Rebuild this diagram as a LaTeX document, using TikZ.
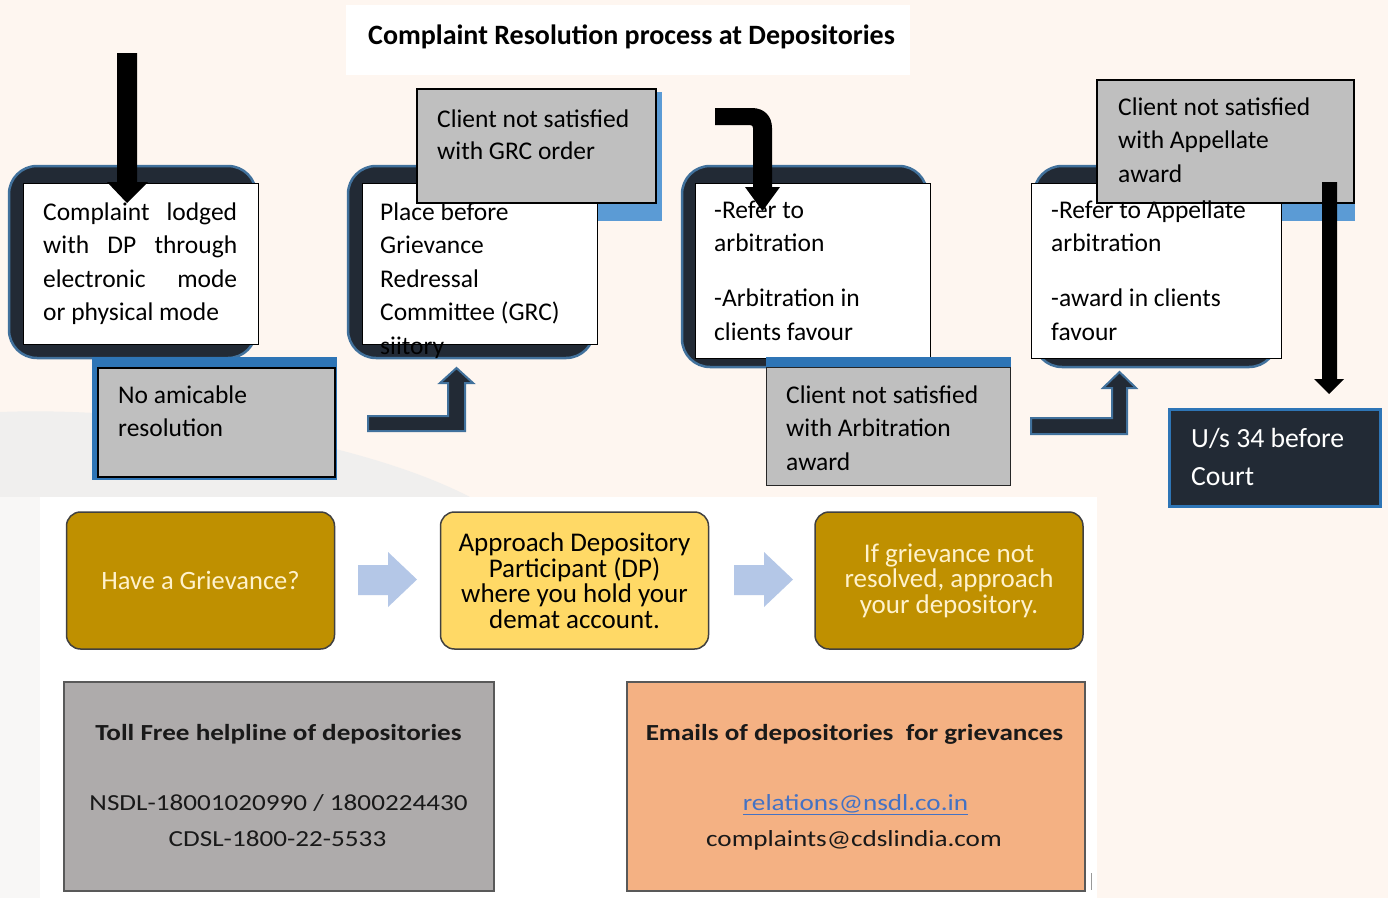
\documentclass[tikz,border=0pt]{standalone}
\usepackage{fontspec}
\setmainfont{Carlito}
\newfontfamily\widefont[FakeStretch=1.18]{Carlito}
\definecolor{bgpeach}{HTML}{FEF6F0}
\definecolor{bggray}{HTML}{F0EFEE}
\definecolor{bglight}{HTML}{F8F7F6}
\definecolor{navy}{HTML}{222A35}
\definecolor{outl}{HTML}{41719C}
\definecolor{blueA}{HTML}{2E75B6}
\definecolor{blueB}{HTML}{5B9BD5}
\definecolor{grayBox}{HTML}{BFBFBF}
\definecolor{gold}{HTML}{BF9000}
\definecolor{cream}{HTML}{FFF2CC}
\definecolor{yellowB}{HTML}{FFD966}
\definecolor{arrowBlue}{HTML}{B4C7E7}
\definecolor{helpGray}{HTML}{AEABAB}
\definecolor{peachBox}{HTML}{F4B183}
\definecolor{linkBlue}{HTML}{4472C4}
\definecolor{edgeGray}{HTML}{595959}
\newcommand\mlines[1]{\vtop{#1}}
\begin{document}
\begin{tikzpicture}[x=1pt,y=-1pt,
  box/.style={anchor=north west, inner sep=0pt, outer sep=0pt},
  darkbox/.style={box, fill=navy, draw=outl, line width=2.5pt, rounded corners=28pt},
  whitebox/.style={box, fill=white, draw=black, line width=1pt},
  graybox/.style={box, fill=grayBox, draw=black, line width=1.8pt},
  bluebox/.style={box, fill=#1},
  txt/.style={anchor=base west, inner sep=0pt, font=\fontsize{25.5}{33.5}\selectfont},
  bent/.style={fill=navy, draw=outl, line width=2pt, line join=miter},
  flow/.style={rounded corners=14pt, draw=black!75, line width=1.5pt, minimum width=268pt, minimum height=137pt, inner sep=0pt, align=center},
  flowtxt/.style={font=\fontsize{27}{25.5}\selectfont},
  infobox/.style={box, draw=edgeGray, line width=1.5pt, minimum width=#1, minimum height=209pt},
  infotxt/.style={anchor=base, inner sep=0pt, font=\widefont\fontsize{23}{28}\selectfont, text=black!90}
]
\useasboundingbox (0,0) rectangle (1388,898);
% background
\fill[bgpeach] (0,0) rectangle (1388,898);
\fill[bggray] (0,412) .. controls (150,406) and (360,440) .. (470,497) -- (0,497) -- cycle;
\fill[bglight] (0,497) rectangle (40,898);
\fill[white] (40,497) rectangle (1097,898);

% title
\node[box, fill=white, minimum width=564pt, minimum height=70pt] (titlebg) at (346,5) {};
\node[anchor=base west, inner sep=0pt, font=\bfseries\fontsize{28}{34}\selectfont] (title) at (368,44) {Complaint Resolution process at Depositories};

% ---- Box 1
\node[darkbox, minimum width=247pt, minimum height=192pt] (d1) at (9,166) {};
\node[whitebox, minimum width=235pt, minimum height=161pt] (w1) at (23,183) {};
\node[txt] (t1) at (43,220) {\mlines{\hbox to 194pt{Complaint\hfil lodged}\hbox to 194pt{with\hfil DP\hfil through}\hbox to 194pt{electronic\hfil mode}\hbox{or physical mode}}};
\coordinate (a1s) at (127,53);
\coordinate (a1e) at (127,203);
\fill[black] (117,53) -- (137,53) -- (137,182) -- (148,182) -- (a1e) -- (107,182) -- (117,182) -- cycle;

% No amicable resolution
\node[bluebox=blueA, minimum width=245pt, minimum height=123pt] (nab) at (92,357) {};
\node[graybox, minimum width=237pt, minimum height=109pt] (na) at (98,368) {};
\node[txt] (tna) at (118,403) {\mlines{\hbox{No amicable}\hbox{resolution}}};

% bent arrow 1
\draw[bent] (368,416) -- (448,416) -- (448,383) -- (440,383) -- (456.5,368) -- (473,383) -- (465,383) -- (465,431) -- (368,431) -- cycle;

% ---- Box 2
\node[darkbox, minimum width=246pt, minimum height=192pt] (d2) at (348,166) {};
\node[bluebox=blueB, minimum width=237pt, minimum height=129pt] (grcb) at (425,92) {};
\node[whitebox, minimum width=235pt, minimum height=161pt] (w2) at (362,183) {};
\node[txt] (t2) at (380,220) {\mlines{\hbox{Place before}\hbox{Grievance}\hbox{Redressal}\hbox{Committee (GRC)}\hbox{siitory}}};
\node[graybox, minimum width=239pt, minimum height=114pt] (grc) at (417,89) {};
\node[txt] (tgrc) at (437,127) {\mlines{\hbox{Client not satisfied}\vskip-1.5pt\hbox{with GRC order}}};

% ---- Box 3
\node[darkbox, minimum width=245pt, minimum height=201pt] (d3) at (682,166) {};
\node[whitebox, minimum width=235pt, minimum height=175pt] (w3) at (695,183) {};
\node[txt] (t3) at (714,218) {\mlines{\hbox{-Refer to}\hbox{arbitration}\vskip21.5pt\hbox{-Arbitration in}\hbox{clients favour}}};
\fill[black] (715,108) -- (752,108) .. controls (764,108) and (772,116) .. (772,128) -- (772,187) -- (780,187) -- (762.5,211) -- (745,187) -- (753,187) -- (753,128) .. controls (753,126) and (752,125) .. (750,125) -- (715,125) -- cycle;

% Arbitration award
\node[bluebox=blueA, minimum width=245pt, minimum height=12pt] (arbb) at (766,357) {};
\node[box, fill=grayBox, draw=black!85, line width=1pt, minimum width=244pt, minimum height=118pt] (arb) at (766,367) {};
\node[txt] (tarb) at (786,403) {\mlines{\hbox{Client not satisfied}\hbox{with Arbitration}\hbox{award}}};

% bent arrow 2
\draw[bent] (1031,418) -- (1112,418) -- (1112,388) -- (1103,388) -- (1119.5,372) -- (1136,388) -- (1127,388) -- (1127,434) -- (1031,434) -- cycle;

% ---- Box 4
\node[darkbox, minimum width=243pt, minimum height=201pt] (d4) at (1034,166) {};
\node[bluebox=blueB, minimum width=250pt, minimum height=137pt] (appb) at (1105,84) {};
\node[whitebox, minimum width=250pt, minimum height=175pt] (w4) at (1031,183) {};
\node[graybox, minimum width=257pt, minimum height=123pt] (app) at (1097,80) {};
\node[txt] (tapp) at (1118,115) {\mlines{\hbox{Client not satisfied}\hbox{with Appellate}\hbox{award}}};
\node[txt] (t4) at (1051,218) {\mlines{\hbox{-Refer to Appellate}\hbox{arbitration}\vskip21.5pt\hbox{-award in clients}\hbox{favour}}};
\coordinate (a4e) at (1329,394);
\fill[black] (1322,182) -- (1337,182) -- (1337,379) -- (1344,379) -- (a4e) -- (1314,379) -- (1322,379) -- cycle;

% U/s 34
\node[box, fill=navy, draw=blueA, line width=3pt, minimum width=211pt, minimum height=97pt] (us) at (1169,409) {};
\node[txt, text=white, font=\fontsize{27.7}{38}\selectfont] (tus) at (1191,447) {\mlines{\hbox{U/s 34 before}\hbox{Court}}};

% ---- bottom flow
\node[flow, fill=gold, text=cream, font=\fontsize{26.5}{25.5}\selectfont] (ga) at (200.5,580.5) {Have a Grievance?};
\node[flow, fill=yellowB, text=black, flowtxt] (gb) at (574.5,580.5) {Approach Depository\\Participant (DP)\\where you hold your\\demat account.};
\node[flow, fill=gold, text=cream, flowtxt] (gc) at (949,580.5) {If grievance not\\resolved, approach\\your depository.};
\fill[arrowBlue] (358,565) -- (388,565) -- (388,552) -- (417,579.5) -- (388,607) -- (388,595) -- (358,595) -- cycle;
\fill[arrowBlue] (734,565) -- (764,565) -- (764,552) -- (793,579.5) -- (764,607) -- (764,595) -- (734,595) -- cycle;

% ---- info boxes
\node[infobox=430pt, fill=helpGray] (hl) at (64,682) {};
\node[infotxt, font=\widefont\bfseries\fontsize{23}{28}\selectfont] (hl1) at (278.5,740) {Toll Free helpline of depositories};
\node[infotxt] (hl2) at (278.5,810) {NSDL-18001020990 / 1800224430};
\node[infotxt] (hl3) at (277.5,846) {CDSL-1800-22-5533};

\node[infobox=458pt, fill=peachBox] (em) at (627,682) {};
\node[infotxt, font=\widefont\bfseries\fontsize{23}{28}\selectfont] (em1) at (854.5,740) {Emails of depositories\ \ for grievances};
\node[infotxt, text=linkBlue] (em2) at (855.5,810) {\underline{relations@nsdl.co.in}};
\node[infotxt] (em3) at (854,846) {complaints@cdslindia.com};
\draw[black!40, line width=1pt] (1091,873) -- (1091,890);
\end{tikzpicture}
\end{document}
